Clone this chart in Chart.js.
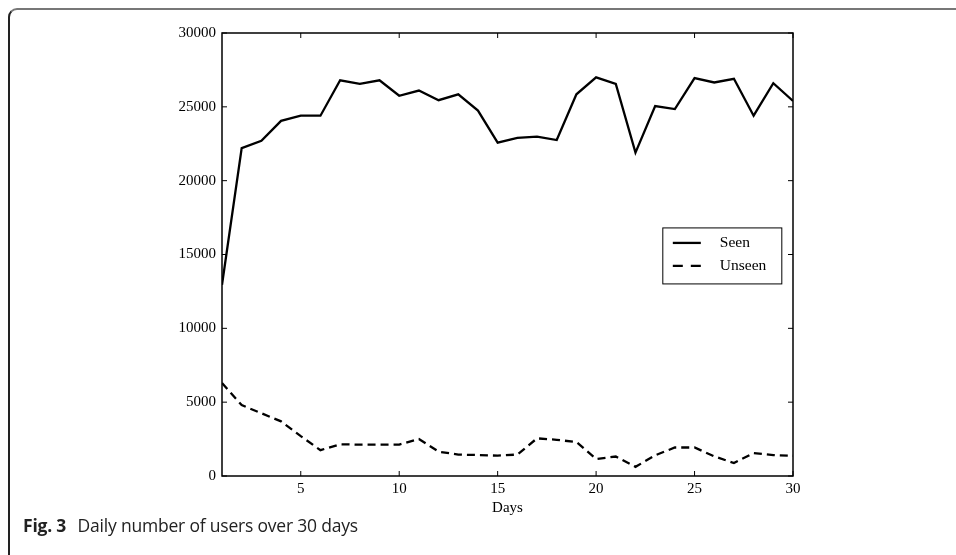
<!DOCTYPE html>
<html>
<head>
<meta charset="utf-8">
<script src="https://cdn.jsdelivr.net/npm/chart.js@4"></script>
<style>
  html, body { margin: 0; padding: 0; background: #fff; }
  #wrap { position: relative; width: 956px; height: 555px; overflow: hidden; }
  #frame {
    position: absolute; left: 8px; top: 8px; width: 960px; height: 560px;
    border-top: 2px solid #777; border-left: 2px solid #222;
    border-top-left-radius: 9px; box-sizing: border-box;
  }
  #caption {
    position: absolute; left: 23px; top: 513px;
    font-family: "Open Sans", "Noto Sans", sans-serif; font-size: 17.5px; color: #222;
    letter-spacing: -0.2px;
  }
  #caption b { font-weight: 700; margin-right: 7px; }
  canvas { position: absolute; left: 0; top: 0; }
</style>
</head>
<body>
<div id="wrap">
  <div id="frame"></div>
  <canvas id="usersChart" width="956" height="555"></canvas>
  <div id="caption"><b>Fig. 3</b> Daily number of users over 30 days</div>
</div>
<script>
// Days 1..30
const days = [1, 2, 3, 4, 5, 6, 7, 8, 9, 10, 11, 12, 13, 14, 15,
              16, 17, 18, 19, 20, 21, 22, 23, 24, 25, 26, 27, 28, 29, 30];

// Users who were seen before
const seen = [12950, 22200, 22700, 24050, 24400, 24400, 26800, 26550, 26800, 25750,
              26100, 25450, 25850, 24750, 22570, 22900, 22980, 22750, 25850, 27000,
              26550, 21900, 25050, 24850, 26950, 26650, 26900, 24400, 26600, 25400];

// New (unseen) users
const unseen = [6300, 4800, 4250, 3700, 2700, 1750, 2150, 2120, 2120, 2130,
                2500, 1650, 1450, 1420, 1380, 1450, 2550, 2450, 2300, 1150,
                1320, 620, 1400, 1930, 1930, 1330, 880, 1550, 1420, 1370];

const xTicks = [5, 10, 15, 20, 25, 30];
const yTicks = [0, 5000, 10000, 15000, 20000, 25000, 30000];

const serif = '"Liberation Serif", "DejaVu Serif", serif';

// box around the plot, inward ticks on all four sides, and the legend inside the plot
const framePlugin = {
    id: 'framePlugin',
    afterDraw(chart) {
        const { ctx, chartArea: a, scales } = chart;
        ctx.save();
        ctx.strokeStyle = '#000';
        ctx.lineWidth = 1.5;
        ctx.setLineDash([]);
        ctx.strokeRect(a.left, a.top, a.right - a.left, a.bottom - a.top);

        ctx.lineWidth = 1;
        ctx.beginPath();
        xTicks.forEach(v => {
            const px = scales.x.getPixelForValue(v);
            ctx.moveTo(px, a.bottom); ctx.lineTo(px, a.bottom - 5);
            ctx.moveTo(px, a.top); ctx.lineTo(px, a.top + 5);
        });
        yTicks.forEach(v => {
            const py = scales.y.getPixelForValue(v);
            ctx.moveTo(a.left, py); ctx.lineTo(a.left + 5, py);
            ctx.moveTo(a.right, py); ctx.lineTo(a.right - 5, py);
        });
        ctx.stroke();

        // legend box
        const lx = a.left + (a.right - a.left) * 0.772;
        const ly = scales.y.getPixelForValue(16800);
        const w = 119, h = 56;
        ctx.fillStyle = '#fff';
        ctx.fillRect(lx, ly, w, h);
        ctx.strokeStyle = '#000';
        ctx.lineWidth = 1;
        ctx.strokeRect(lx, ly, w, h);
        ctx.font = '15.5px ' + serif;
        ctx.textBaseline = 'middle';
        chart.data.datasets.forEach((ds, i) => {
            const ry = ly + 15 + i * 23;
            ctx.strokeStyle = ds.borderColor;
            ctx.lineWidth = ds.borderWidth;
            ctx.setLineDash(ds.borderDash ? [10, 8] : []);
            ctx.beginPath();
            ctx.moveTo(lx + 10, ry);
            ctx.lineTo(lx + 38, ry);
            ctx.stroke();
            ctx.fillStyle = '#000';
            ctx.fillText(ds.label, lx + 57, ry);
        });
        ctx.restore();
    }
};

const ctx = document.getElementById('usersChart').getContext('2d');

new Chart(ctx, {
    type: 'line',
    data: {
        datasets: [
            {
                label: 'Seen',
                data: days.map((d, i) => ({ x: d, y: seen[i] })),
                borderColor: '#000',
                borderWidth: 2.3,
                pointRadius: 0,
                tension: 0,
                fill: false
            },
            {
                label: 'Unseen',
                data: days.map((d, i) => ({ x: d, y: unseen[i] })),
                borderColor: '#000',
                borderWidth: 2.3,
                borderDash: [8, 5],
                pointRadius: 0,
                tension: 0,
                fill: false
            }
        ]
    },
    options: {
        responsive: false,
        animation: false,
        layout: { padding: { left: 150, right: 163, top: 33, bottom: 38 } },
        plugins: {
            legend: { display: false },
            tooltip: { enabled: false }
        },
        scales: {
            x: {
                type: 'linear',
                min: 1,
                max: 30,
                afterBuildTicks: s => { s.ticks = xTicks.map(v => ({ value: v })); },
                afterFit: s => { s.height = 41; },
                grid: { display: false, drawTicks: false },
                border: { display: false },
                ticks: { color: '#000', font: { family: serif, size: 15 }, padding: 4, maxRotation: 0 },
                title: { display: true, text: 'Days', color: '#000', font: { family: serif, size: 15 }, padding: { top: 0, bottom: 0 } }
            },
            y: {
                min: 0,
                max: 30000,
                afterBuildTicks: s => { s.ticks = yTicks.map(v => ({ value: v })); },
                afterFit: s => { s.width = 72; },
                grid: { display: false, drawTicks: false },
                border: { display: false },
                ticks: { color: '#000', font: { family: serif, size: 15 }, padding: 6, callback: v => String(v) }
            }
        }
    },
    plugins: [framePlugin]
});
</script>
</body>
</html>
